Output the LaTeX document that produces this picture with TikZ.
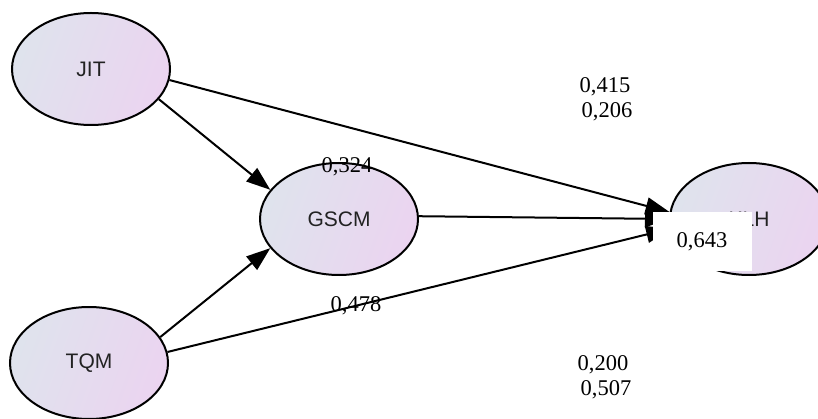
\documentclass[tikz,border=0pt]{standalone}
\usepackage{fontspec}
\setmainfont{Liberation Serif}
\newfontfamily\labelfont{Liberation Sans}
\usetikzlibrary{shapes.geometric,arrows.meta}

\definecolor{fillA}{HTML}{DFE3ED}
\definecolor{fillB}{HTML}{EBD4F0}
\definecolor{inktext}{HTML}{222222}

\tikzset{
  construct/.style={ellipse, draw=black, line width=2pt,
    left color=fillA, right color=fillB, shading angle=70,
    minimum width=158pt, minimum height=112pt, inner sep=0pt,
    font=\labelfont\fontsize{21}{24}\selectfont, text=inktext},
  path/.style={line width=2pt, draw=black,
    -{Triangle[length=24pt,width=17pt]}},
  coef/.style={font=\fontsize{22.5}{26}\selectfont, anchor=base, inner sep=0pt},
  coefbox/.style={fill=white, minimum width=99pt, minimum height=59pt,
    inner sep=0pt, font=\fontsize{22.5}{26}\selectfont}
}

\begin{document}
\begin{tikzpicture}[x=1pt,y=-1pt]
  \useasboundingbox (0,0) rectangle (818,419);
  \clip (0,0) rectangle (818,419);
  \fill[white] (0,0) rectangle (818,419);

  % latent constructs
  \node[construct] (JIT)  at (91,69)   {JIT};
  \node[construct] (GSCM) at (339,219) {GSCM};
  \node[construct] (KLH)  at (749,219) {KLH};
  \node[construct] (TQM)  at (89,363)  {TQM};

  % structural paths
  \draw[path] (JIT.-24)  -- (GSCM.157);
  \draw[path] (JIT.-8)   -- (KLH.175);
  \draw[path] (GSCM.2)   -- (KLH.180);
  \draw[path] (TQM.20)   -- (GSCM.203);
  \draw[path] (TQM.8)    -- (KLH.187);

  % path coefficients
  \node[coef] (c1) at (605,93)  {0,415};
  \node[coef] (c2) at (607,118) {0,206};
  \node[coef] (c3) at (347,173) {0,324};
  \node[coef] (c4) at (356,311) {0,478};
  \node[coef] (c5) at (603,370) {0,200};
  \node[coef] (c6) at (606,395) {0,507};

  % R-square of the endogenous construct
  \node[coefbox] (r2) at (702,242) {0,643};
\end{tikzpicture}
\end{document}
